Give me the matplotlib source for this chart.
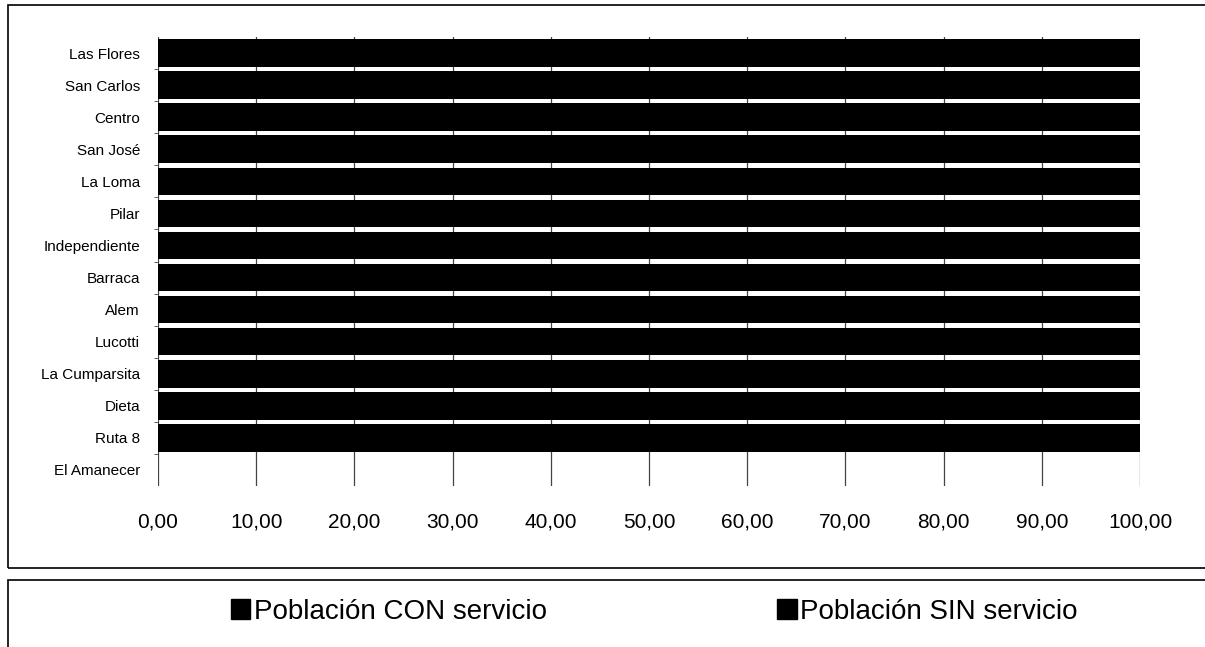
import matplotlib
matplotlib.use("Agg")
import matplotlib.pyplot as plt
from matplotlib.patches import Rectangle, Patch

plt.rcParams['font.family'] = ['Liberation Sans', 'DejaVu Sans']

barrios = ["Las Flores", "San Carlos", "Centro", "San José", "La Loma", "Pilar",
           "Independiente", "Barraca", "Alem", "Lucotti", "La Cumparsita",
           "Dieta", "Ruta 8", "El Amanecer"]
con_servicio = [95.0, 90.0, 88.0, 85.0, 83.0, 80.0, 78.0, 75.0, 72.0, 70.0, 68.0, 60.0, 70.0, 0.0]
sin_servicio = [5.0, 10.0, 12.0, 15.0, 17.0, 20.0, 22.0, 25.0, 28.0, 30.0, 32.0, 40.0, 30.0, 0.0]
xticks = [0, 10, 20, 30, 40, 50, 60, 70, 80, 90, 100]
series_names = ["Población CON servicio", "Población SIN servicio"]

fig = plt.figure(figsize=(12.05, 6.47), dpi=100)

# outer boxes
fig.patches.append(Rectangle((8/1205, 1-568/647), 1.2, (568-5)/647, transform=fig.transFigure,
                             fill=False, edgecolor='black', linewidth=1.2, zorder=0))
fig.patches.append(Rectangle((8/1205, -0.05), 1.2, 1-580/647+0.05, transform=fig.transFigure,
                             fill=False, edgecolor='black', linewidth=1.2, zorder=0))

ax = fig.add_axes([158/1205, 1-486/647, (1140-158)/1205, (486-37)/647])
y = list(range(len(barrios)))
ax.barh(y, con_servicio, height=0.86, color='black', zorder=2, label=series_names[0])
ax.barh(y, sin_servicio, left=con_servicio, height=0.86, color='black', zorder=2, label=series_names[1])

ax.set_ylim(len(barrios)-0.5, -0.5)
ax.set_xlim(0, 100)
ax.set_yticks(y)
ax.set_yticklabels(barrios, fontsize=11)
ax.set_yticks([v + 0.5 for v in y[:-1]], minor=True)
ax.set_xticks(xticks)
ax.set_xticklabels([f"{v:.2f}".replace('.', ',') for v in xticks], fontsize=15)
ax.tick_params(axis='x', length=0, pad=19)
ax.tick_params(axis='y', which='major', length=0, pad=13)
ax.tick_params(axis='y', which='minor', length=3, color='#444444')
ax.xaxis.grid(True, color='#444444', linewidth=0.9, zorder=0)
ax.set_axisbelow(True)
for s in ax.spines.values():
    s.set_visible(False)

handles = [Patch(facecolor='black', edgecolor='black'), Patch(facecolor='black', edgecolor='black')]
fig.legend(handles, series_names, loc='center', bbox_to_anchor=(0.543, 1-612/647), ncol=2,
           frameon=False, fontsize=20, handlelength=0.7, handleheight=0.75,
           handletextpad=0.12, columnspacing=8.3)

fig.savefig("out.png", dpi=100)
